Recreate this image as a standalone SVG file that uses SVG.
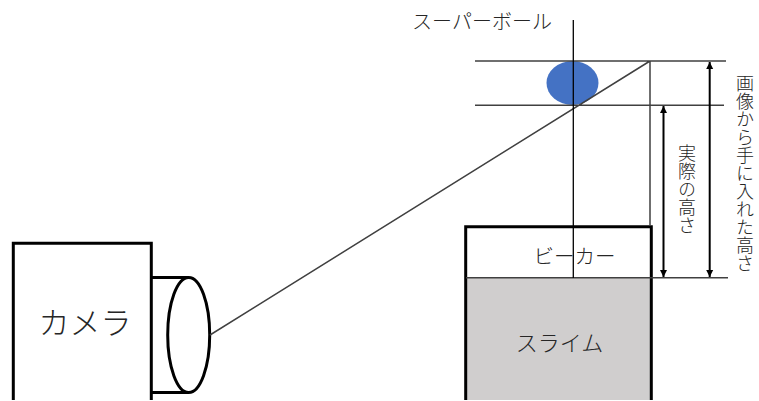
<svg xmlns="http://www.w3.org/2000/svg" width="759" height="401" viewBox="0 0 759 401">
<style>
text{font-family:"Noto Sans CJK JP","Noto Sans",sans-serif;font-weight:300;fill:#262626}
.v{writing-mode:vertical-rl;font-size:18px}
.thick{fill:none;stroke:#000;stroke-width:3}
.thin{fill:none;stroke:#404040;stroke-width:1.5}
.dim{fill:none;stroke:#000;stroke-width:2;marker-start:url(#a);marker-end:url(#a)}
</style>
<defs><marker id="a" markerUnits="userSpaceOnUse" markerWidth="8" markerHeight="8" refX="7" refY="4" orient="auto-start-reverse"><path d="M0 0.5L7 4L0 7.5Z" fill="#000"/></marker></defs>
<rect width="759" height="401" fill="#fff"/>
<g id="slime"><rect x="466" y="278" width="185" height="122" fill="#d0cece"/><text x="559.5" y="351" font-size="22" text-anchor="middle">スライム</text></g>
<g id="beaker"><path class="thick" d="M465.700 400V226.700H651.300V400"/><text x="574.500" y="264" font-size="20.500" text-anchor="middle">ビーカー</text></g>
<g id="ball"><ellipse cx="572.500" cy="83" rx="26" ry="22" fill="#4472c4"/></g>
<g id="ball-label"><text x="482" y="29" font-size="20" text-anchor="middle">スーパーボール</text></g>
<g id="camera"><path class="thick" d="M13.300 400V243.300H151.300V400"/><text x="85" y="334" font-size="31" text-anchor="middle">カメラ</text></g>
<g id="lens"><path class="thick" d="M151 277.500H188M151 392.500H188"/><ellipse class="thick" cx="188.700" cy="335" rx="21" ry="57.500" fill="#fff"/></g>
<g id="connectors">
<path class="thin" d="M475 61H726M475 105.300H724M466 277.700H728M650 61V226M210 335L650 61"/>
<path d="M573.300 20V278" fill="none" stroke="#000" stroke-width="1.300"/>
<path class="dim" d="M663.500 106V277"/>
<path class="dim" d="M709.700 62V277"/>
</g>
<g id="label-actual"><text class="v" x="687" y="144">実際の高さ</text></g>
<g id="label-image"><text class="v" x="745" y="74">画像から手に入れた高さ</text></g>
</svg>
